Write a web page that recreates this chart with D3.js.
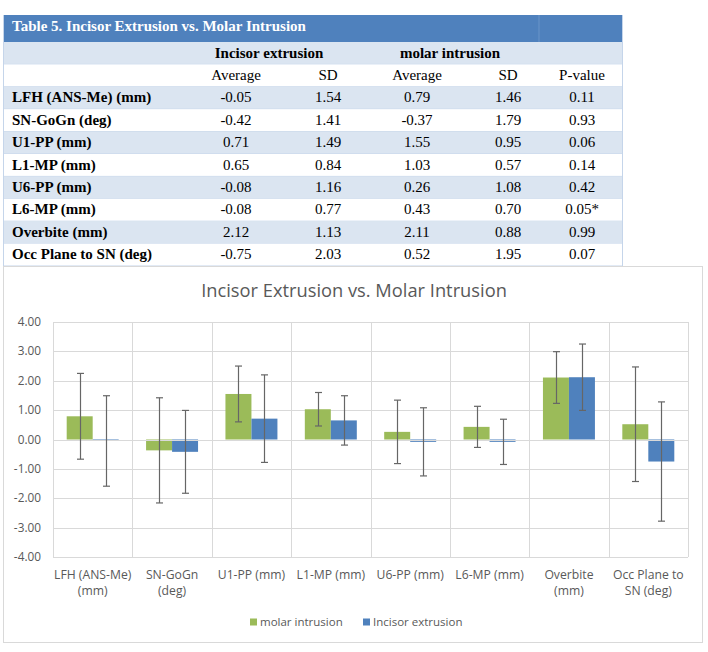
<!DOCTYPE html>
<html>
<head>
<meta charset="utf-8">
<script src="https://cdn.jsdelivr.net/npm/d3@7"></script>
<style>
  body { margin: 0; background: #fff; }
  svg { display: block; }
</style>
</head>
<body>
<svg id="fig" width="708" height="652"></svg>
<script>
// table + chart data
const rowLabels = ["LFH (ANS-Me) (mm)", "SN-GoGn (deg)", "U1-PP (mm)", "L1-MP (mm)",
    "U6-PP (mm)", "L6-MP (mm)", "Overbite (mm)", "Occ Plane to SN (deg)"];
const categories = [["LFH (ANS-Me)", "(mm)"], ["SN-GoGn", "(deg)"], ["U1-PP (mm)"], ["L1-MP (mm)"],
    ["U6-PP (mm)"], ["L6-MP (mm)"], ["Overbite", "(mm)"], ["Occ Plane to", "SN (deg)"]];
const incisorAvg = [-0.05, -0.42, 0.71, 0.65, -0.08, -0.08, 2.12, -0.75];
const incisorSD = [1.54, 1.41, 1.49, 0.84, 1.16, 0.77, 1.13, 2.03];
const molarAvg = [0.79, -0.37, 1.55, 1.03, 0.26, 0.43, 2.11, 0.52];
const molarSD = [1.46, 1.79, 0.95, 0.57, 1.08, 0.70, 0.88, 1.95];
const pValues = ["0.11", "0.93", "0.06", "0.14", "0.42", "0.05*", "0.99", "0.07"];
const yTicks = [-4, -3, -2, -1, 0, 1, 2, 3, 4];
const seriesNames = ["molar intrusion", "Incisor extrusion"];
const seriesColors = ["#9bbb59", "#4f81bd"];

const svg = d3.select("#fig");
// plain hyphen for negatives, like the original
const fmt = d3.formatLocale({ decimal: ".", thousands: ",", grouping: [3], currency: ["", ""], minus: "-" }).format(".2f");
const serif = "'Liberation Serif', 'Times New Roman', serif";
const sans = "'Open Sans', 'Noto Sans', sans-serif";

// ---------- table ----------
const tX0 = 3, tX1 = 623, tTop = 15;
const titleH = 27, rowH = 22.4;
const colX = [236, 328, 417, 508, 582];   // Average, SD, Average, SD, P-value

const table = svg.append("g").attr("class", "table");

table.append("rect")
    .attr("x", tX0).attr("y", tTop)
    .attr("width", tX1 - tX0).attr("height", titleH)
    .attr("fill", "#4f81bd");
table.append("line")
    .attr("x1", 539).attr("x2", 539)
    .attr("y1", tTop).attr("y2", tTop + titleH)
    .attr("stroke", "#6a94c8");
table.append("text")
    .attr("x", 12).attr("y", tTop + 16)
    .attr("font-family", serif).attr("font-size", 15).attr("font-weight", "bold")
    .attr("fill", "#fff")
    .text("Table 5. Incisor Extrusion vs. Molar Intrusion");

// header rows + data rows
const headTop = tTop + titleH;
const rows = [
    { cells: [], group: true },
    { cells: ["Average", "SD", "Average", "SD", "P-value"] }
].concat(rowLabels.map((lab, i) => ({
    label: lab,
    cells: [fmt(incisorAvg[i]), fmt(incisorSD[i]), fmt(molarAvg[i]), fmt(molarSD[i]), pValues[i]]
})));

const rowG = table.selectAll("g.row")
    .data(rows)
    .enter().append("g")
    .attr("class", "row")
    .attr("transform", (d, i) => `translate(0,${headTop + i * rowH})`);

rowG.append("rect")
    .attr("x", tX0).attr("width", tX1 - tX0)
    .attr("height", rowH)
    .attr("fill", (d, i) => i % 2 === 0 ? "#dbe5f1" : "#fff");

rowG.append("line")
    .attr("x1", tX0).attr("x2", tX1)
    .attr("y1", rowH).attr("y2", rowH)
    .attr("stroke", "#c5d5ea");

rowG.filter(d => d.label)
    .append("text")
    .attr("x", 12).attr("y", 15.5)
    .attr("font-family", serif).attr("font-size", 15).attr("font-weight", "bold")
    .attr("fill", "#000")
    .text(d => d.label);

rowG.selectAll("text.cell")
    .data(d => d.cells)
    .enter().append("text")
    .attr("class", "cell")
    .attr("x", (d, i) => colX[i]).attr("y", 15.5)
    .attr("text-anchor", "middle")
    .attr("font-family", serif).attr("font-size", 15)
    .attr("fill", "#000")
    .text(d => d);

const groupRow = rowG.filter(d => d.group);
[["Incisor extrusion", 269], ["molar intrusion", 450]].forEach(([t, x]) => {
    groupRow.append("text")
        .attr("x", x).attr("y", 15.5)
        .attr("text-anchor", "middle")
        .attr("font-family", serif).attr("font-size", 15).attr("font-weight", "bold")
        .attr("fill", "#000")
        .text(t);
});

table.append("line")
    .attr("x1", tX0 + 0.5).attr("x2", tX0 + 0.5)
    .attr("y1", tTop).attr("y2", headTop + rows.length * rowH)
    .attr("stroke", "#c5d5ea");
table.append("line")
    .attr("x1", tX1 - 0.5).attr("x2", tX1 - 0.5)
    .attr("y1", tTop).attr("y2", headTop + rows.length * rowH)
    .attr("stroke", "#c5d5ea");

// ---------- chart ----------
const chart = svg.append("g").attr("class", "chart");

chart.append("rect")
    .attr("x", 3.5).attr("y", 266.5)
    .attr("width", 699).attr("height", 376)
    .attr("fill", "#fff")
    .attr("stroke", "#d9d9d9");

chart.append("text")
    .attr("x", 354).attr("y", 297)
    .attr("text-anchor", "middle")
    .attr("font-family", sans).attr("font-size", 18.3)
    .attr("fill", "#595959")
    .text("Incisor Extrusion vs. Molar Intrusion");

const plot = { left: 53, right: 688, top: 322, bottom: 557 };

const y = d3.scaleLinear().domain([-4, 4]).range([plot.bottom, plot.top]);
const x = d3.scaleBand()
    .domain(d3.range(categories.length))
    .range([plot.left, plot.right])
    .padding(0);
const xs = d3.scaleBand()
    .domain([0, 1])
    .range([0, x.bandwidth()])
    .paddingInner(0)
    .paddingOuter(0.527);

// gridlines
chart.append("g")
    .selectAll("line")
    .data(yTicks)
    .enter().append("line")
    .attr("x1", plot.left).attr("x2", plot.right)
    .attr("y1", d => Math.round(y(d)) + 0.5).attr("y2", d => Math.round(y(d)) + 0.5)
    .attr("stroke", "#d9d9d9");

chart.append("g")
    .selectAll("line")
    .data(d3.range(categories.length + 1))
    .enter().append("line")
    .attr("x1", d => Math.round(plot.left + d * x.step()) + 0.5)
    .attr("x2", d => Math.round(plot.left + d * x.step()) + 0.5)
    .attr("y1", plot.top).attr("y2", plot.bottom)
    .attr("stroke", "#d9d9d9");

// y labels
chart.append("g")
    .selectAll("text")
    .data(yTicks)
    .enter().append("text")
    .attr("x", 41).attr("y", d => y(d) + 4)
    .attr("text-anchor", "end")
    .attr("font-family", sans).attr("font-size", 11.8)
    .attr("fill", "#595959")
    .text(d => fmt(d));

// bars
const series = [
    { name: seriesNames[0], avg: molarAvg, sd: molarSD, color: seriesColors[0] },
    { name: seriesNames[1], avg: incisorAvg, sd: incisorSD, color: seriesColors[1] }
];
const barData = [];
series.forEach((s, si) => {
    s.avg.forEach((v, ci) => barData.push({ si, ci, v, sd: s.sd[ci], color: s.color }));
});

chart.append("g")
    .selectAll("rect")
    .data(barData)
    .enter().append("rect")
    .attr("x", d => x(d.ci) + xs(d.si))
    .attr("width", xs.bandwidth())
    .attr("y", d => y(Math.max(0, d.v)))
    .attr("height", d => Math.abs(y(d.v) - y(0)))
    .attr("fill", d => d.color);

// zero axis line
chart.append("line")
    .attr("x1", plot.left).attr("x2", plot.right)
    .attr("y1", Math.round(y(0)) + 0.5).attr("y2", Math.round(y(0)) + 0.5)
    .attr("stroke", "#d9d9d9");

// error bars (+/- SD)
const err = chart.append("g").attr("class", "errorbars")
    .selectAll("g")
    .data(barData)
    .enter().append("g")
    .attr("transform", d => `translate(${Math.round(x(d.ci) + xs(d.si) + xs.bandwidth() / 2) + 0.5},0)`)
    .attr("stroke", "#666").attr("stroke-width", 1.2);

err.append("line")
    .attr("y1", d => y(d.v + d.sd)).attr("y2", d => y(d.v - d.sd));
err.append("line")
    .attr("x1", -3.5).attr("x2", 3.5)
    .attr("y1", d => y(d.v + d.sd)).attr("y2", d => y(d.v + d.sd));
err.append("line")
    .attr("x1", -3.5).attr("x2", 3.5)
    .attr("y1", d => y(d.v - d.sd)).attr("y2", d => y(d.v - d.sd));

// category labels
const catG = chart.append("g")
    .selectAll("text")
    .data(categories)
    .enter().append("text")
    .attr("x", (d, i) => x(i) + x.bandwidth() / 2)
    .attr("y", 579)
    .attr("text-anchor", "middle")
    .attr("font-family", sans).attr("font-size", 12.2)
    .attr("fill", "#595959");
catG.selectAll("tspan")
    .data(d => d)
    .enter().append("tspan")
    .attr("x", function () { return d3.select(this.parentNode).attr("x"); })
    .attr("dy", (d, i) => i === 0 ? 0 : 16)
    .text(d => d);

// legend
const legendX = [250, 363];
const leg = chart.append("g")
    .selectAll("g")
    .data(series)
    .enter().append("g")
    .attr("transform", (d, i) => `translate(${legendX[i]},622)`);
leg.append("rect")
    .attr("x", 0).attr("y", -3.5)
    .attr("width", 7).attr("height", 7)
    .attr("fill", d => d.color);
leg.append("text")
    .attr("x", 10).attr("y", 4)
    .attr("font-family", sans).attr("font-size", 11.5)
    .attr("fill", "#595959")
    .text(d => d.name);
</script>
</body>
</html>
